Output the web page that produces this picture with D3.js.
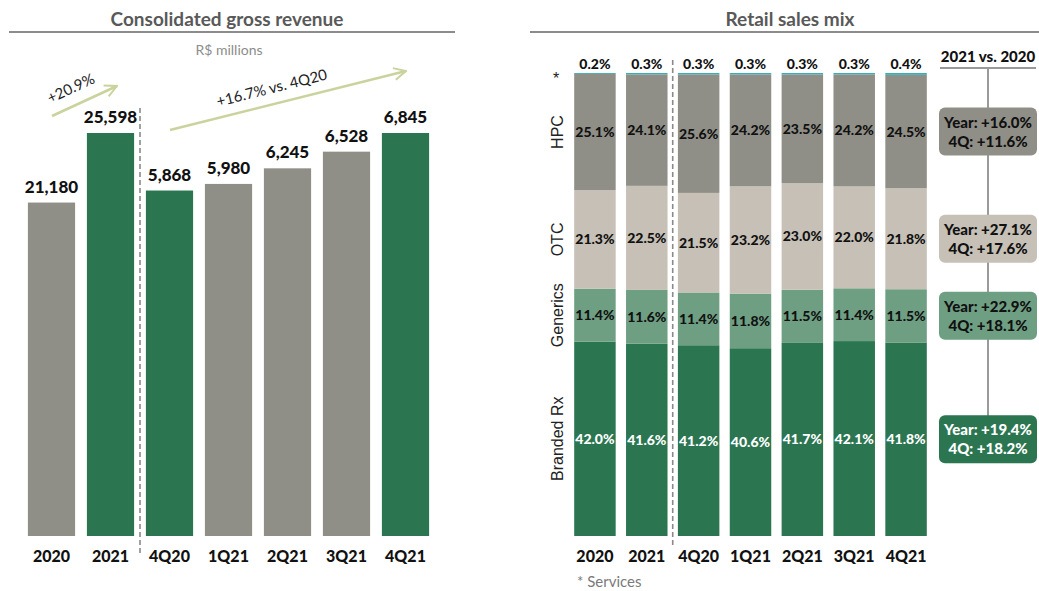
<!DOCTYPE html>
<html>
<head>
<meta charset="utf-8">
<script src="https://cdn.jsdelivr.net/npm/d3@7"></script>
<style>
  body { margin: 0; background: #fff; }
  text { font-family: Lato, "Open Sans", sans-serif; }
</style>
</head>
<body>
<script>
//Width and height
var w = 1039;
var h = 591;

// data - left chart
var categories = ["2020", "2021", "4Q20", "1Q21", "2Q21", "3Q21", "4Q21"];
var years = ["2020", "2021"];
var yearValues = [21180, 25598];
var quarters = ["4Q20", "1Q21", "2Q21", "3Q21", "4Q21"];
var quarterValues = [5868, 5980, 6245, 6528, 6845];
var highlighted = ["2021", "4Q20", "4Q21"];

// data - right chart (percent of retail sales)
var segments = ["Branded Rx", "Generics", "OTC", "HPC", "*"];
var brandedRx = [42.0, 41.6, 41.2, 40.6, 41.7, 42.1, 41.8];
var generics = [11.4, 11.6, 11.4, 11.8, 11.5, 11.4, 11.5];
var otc = [21.3, 22.5, 21.5, 23.2, 23.0, 22.0, 21.8];
var hpc = [25.1, 24.1, 25.6, 24.2, 23.5, 24.2, 24.5];
var services = [0.2, 0.3, 0.3, 0.3, 0.3, 0.3, 0.4];

// 2021 vs 2020 growth, order: HPC, OTC, Generics, Branded Rx
var growthSegments = ["HPC", "OTC", "Generics", "Branded Rx"];
var yearGrowth = ["+16.0%", "+27.1%", "+22.9%", "+19.4%"];
var q4Growth = ["+11.6%", "+17.6%", "+18.1%", "+18.2%"];

var green = "#2b7651";
var gray = "#908f87";
var segColor = {
  "Branded Rx": "#2b7651",
  "Generics": "#6f9f83",
  "OTC": "#c6c0b6",
  "HPC": "#908f87",
  "*": "#3aaeb4"
};
var segText = { "Branded Rx": "#fff", "Generics": "#111", "OTC": "#111", "HPC": "#111", "*": "#111" };

var fmt = d3.format(",");

var svg = d3.select("body").append("svg").attr("width", w).attr("height", h);

var defs = svg.append("defs");
defs.append("marker")
  .attr("id", "arrow")
  .attr("viewBox", "0 0 10 10")
  .attr("refX", 9)
  .attr("refY", 5)
  .attr("markerWidth", 6)
  .attr("markerHeight", 6)
  .attr("markerUnits", "strokeWidth")
  .attr("orient", "auto")
  .append("path")
  .attr("d", "M1,1 L9,5 L1,9")
  .style("fill", "none")
  .style("stroke", "#c9d39d")
  .style("stroke-width", 1.3);

var shadow = defs.append("filter").attr("id", "shadow").attr("height", "400%");
shadow.append("feGaussianBlur").attr("stdDeviation", 1.5);

// titles with underline
function title(txt, cx, x1, x2) {
  svg.append("line")
    .attr("x1", x1).attr("x2", x2).attr("y1", 34).attr("y2", 34)
    .style("stroke", "#ccc").style("stroke-width", 3)
    .attr("filter", "url(#shadow)");
  svg.append("line")
    .attr("x1", x1).attr("x2", x2).attr("y1", 32).attr("y2", 32)
    .style("stroke", "#666").style("stroke-width", 1.3);
  svg.append("text")
    .attr("x", cx).attr("y", 26)
    .attr("text-anchor", "middle")
    .style("font-size", "19px").style("font-weight", "bold")
    .style("fill", "#595959")
    .text(txt);
}
title("Consolidated gross revenue", 227, 9, 455);
title("Retail sales mix", 790, 530, 1039);

svg.append("text")
  .attr("x", 229).attr("y", 55)
  .attr("text-anchor", "middle")
  .style("font-size", "14px").style("fill", "#8c8c8c")
  .text("R$ millions");

// ---------- left chart ----------
var x = d3.scaleBand().domain(categories).range([22, 435]).paddingInner(0.2).paddingOuter(0.1);
var yYear = d3.scaleLinear().domain([0, d3.max(yearValues)]).range([536, 133]);
var yQuarter = d3.scaleLinear().domain([0, d3.max(quarterValues)]).range([536, 133]);

var revenue = years.map(function (c, i) { return { cat: c, value: yearValues[i], y: yYear }; })
  .concat(quarters.map(function (c, i) { return { cat: c, value: quarterValues[i], y: yQuarter }; }));

svg.selectAll(".rev")
  .data(revenue)
  .enter()
  .append("rect")
  .attr("class", "rev")
  .attr("x", function (d) { return x(d.cat); })
  .attr("width", x.bandwidth())
  .attr("y", function (d) { return d.y(d.value); })
  .attr("height", function (d) { return d.y(0) - d.y(d.value); })
  .style("fill", function (d) { return highlighted.indexOf(d.cat) >= 0 ? green : gray; });

svg.selectAll(".revlabel")
  .data(revenue)
  .enter()
  .append("text")
  .attr("class", "revlabel")
  .attr("x", function (d) { return x(d.cat) + x.bandwidth() / 2; })
  .attr("y", function (d) { return d.y(d.value) - 10; })
  .attr("text-anchor", "middle")
  .style("font-size", "17px").style("font-weight", "900").style("fill", "#111")
  .text(function (d) { return fmt(d.value); });

var xAxis = svg.append("g")
  .attr("transform", "translate(0,541)")
  .call(d3.axisBottom(x).tickSize(0).tickPadding(10));
xAxis.select(".domain").remove();
xAxis.selectAll("text").style("font-size", "16px").style("font-weight", "900").style("fill", "#111")
  .style("font-family", "Lato, sans-serif");

// dashed separator
var sepX = (x("2021") + x.bandwidth() + x("4Q20")) / 2;
svg.append("line")
  .attr("x1", sepX).attr("x2", sepX).attr("y1", 108).attr("y2", 556)
  .style("stroke", "#8a8a8a").style("stroke-width", 1.6).style("stroke-dasharray", "5,3");

// growth arrows
function growthArrow(x1, y1, x2, y2, label, tx, ty) {
  svg.append("line")
    .attr("x1", x1).attr("y1", y1).attr("x2", x2).attr("y2", y2)
    .style("stroke", "#c9d39d").style("stroke-width", 2.5)
    .attr("marker-end", "url(#arrow)");
  var ang = Math.atan2(y2 - y1, x2 - x1) * 180 / Math.PI;
  svg.append("text")
    .attr("transform", "translate(" + tx + "," + ty + ") rotate(" + ang + ")")
    .attr("text-anchor", "middle")
    .style("font-size", "15px").style("fill", "#222")
    .text(label);
}
growthArrow(52, 116, 117, 86, "+20.9%", 73, 93);
growthArrow(170, 130, 406, 71, "+16.7% vs. 4Q20", 273, 93);

// ---------- right chart ----------
var x2 = d3.scaleBand().domain(categories).range([569, 932]).paddingInner(0.2).paddingOuter(0.1);
var y2 = d3.scaleLinear().domain([0, 1]).range([536, 73]);

var table = categories.map(function (c, i) {
  return { cat: c, "Branded Rx": brandedRx[i], "Generics": generics[i], "OTC": otc[i], "HPC": hpc[i], "*": services[i] };
});
var stack = d3.stack().keys(segments).offset(d3.stackOffsetExpand);
var series = stack(table);

var layer = svg.selectAll(".layer")
  .data(series)
  .enter()
  .append("g")
  .attr("class", "layer")
  .style("fill", function (d) { return segColor[d.key]; });

layer.selectAll("rect")
  .data(function (d) { return d; })
  .enter()
  .append("rect")
  .attr("x", function (d) { return x2(d.data.cat); })
  .attr("width", x2.bandwidth())
  .attr("y", function (d) { return y2(d[1]); })
  .attr("height", function (d) { return y2(d[0]) - y2(d[1]); });

series.forEach(function (s) {
  svg.selectAll(".lbl-" + segments.indexOf(s.key))
    .data(s)
    .enter()
    .append("text")
    .attr("x", function (d) { return x2(d.data.cat) + x2.bandwidth() / 2; })
    .attr("y", function (d) {
      if (s.key === "*") return y2(d[1]) - 4;
      return (y2(d[0]) + y2(d[1])) / 2 + 5;
    })
    .attr("text-anchor", "middle")
    .style("font-size", "14px").style("font-weight", "900")
    .style("fill", segText[s.key])
    .text(function (d) { return d.data[s.key].toFixed(1) + "%"; });
});

var xAxis2 = svg.append("g")
  .attr("transform", "translate(0,541)")
  .call(d3.axisBottom(x2).tickSize(0).tickPadding(10));
xAxis2.select(".domain").remove();
xAxis2.selectAll("text").style("font-size", "16px").style("font-weight", "900").style("fill", "#111")
  .style("font-family", "Lato, sans-serif");

var sepX2 = (x2("2021") + x2.bandwidth() + x2("4Q20")) / 2;
svg.append("line")
  .attr("x1", sepX2).attr("x2", sepX2).attr("y1", 60).attr("y2", 548)
  .style("stroke", "#8a8a8a").style("stroke-width", 1.6).style("stroke-dasharray", "5,3");

// segment names on the left, centred on the first bar's segments
var first = series.map(function (s) { return { key: s.key, mid: (y2(s[0][0]) + y2(s[0][1])) / 2 }; });
svg.selectAll(".segname")
  .data(first)
  .enter()
  .append("text")
  .attr("transform", function (d) {
    if (d.key === "*") return "translate(556," + (d.mid + 11) + ")";
    return "translate(563," + d.mid + ") rotate(-90)";
  })
  .attr("text-anchor", "middle")
  .style("font-family", "'Liberation Sans', Arial, sans-serif")
  .style("font-size", "16px").style("fill", "#222")
  .text(function (d) { return d.key; });

svg.append("text")
  .attr("x", 577).attr("y", 587)
  .style("font-size", "15px").style("fill", "#7a7a7a")
  .text("* Services");

// 2021 vs 2020 panel
svg.append("text")
  .attr("x", 988).attr("y", 62)
  .attr("text-anchor", "middle")
  .style("font-size", "15px").style("font-weight", "900").style("fill", "#111")
  .text("2021 vs. 2020");
svg.append("line")
  .attr("x1", 940).attr("x2", 1036).attr("y1", 68).attr("y2", 68)
  .style("stroke", "#777").style("stroke-width", 1.3);
svg.append("line")
  .attr("x1", 988).attr("x2", 988).attr("y1", 68).attr("y2", 460)
  .style("stroke", "#9a9a9a").style("stroke-width", 2);

var last = categories.length - 1;
var boxes = growthSegments.map(function (k, i) {
  var s = series[segments.indexOf(k)];
  return { key: k, year: yearGrowth[i], q4: q4Growth[i], mid: (y2(s[last][0]) + y2(s[last][1])) / 2 };
});

var box = svg.selectAll(".gbox")
  .data(boxes)
  .enter()
  .append("g")
  .attr("class", "gbox")
  .attr("transform", function (d) { return "translate(988," + d.mid + ")"; });

box.append("rect")
  .attr("x", -49).attr("y", -24)
  .attr("width", 98).attr("height", 48)
  .attr("rx", 6)
  .style("fill", function (d) { return segColor[d.key]; });

box.append("text")
  .attr("y", -4)
  .attr("text-anchor", "middle")
  .style("font-size", "15px").style("font-weight", "900")
  .style("fill", function (d) { return segText[d.key]; })
  .text(function (d) { return "Year: " + d.year; });
box.append("text")
  .attr("y", 15)
  .attr("text-anchor", "middle")
  .style("font-size", "15px").style("font-weight", "900")
  .style("fill", function (d) { return segText[d.key]; })
  .text(function (d) { return "4Q: " + d.q4; });
</script>
</body>
</html>
